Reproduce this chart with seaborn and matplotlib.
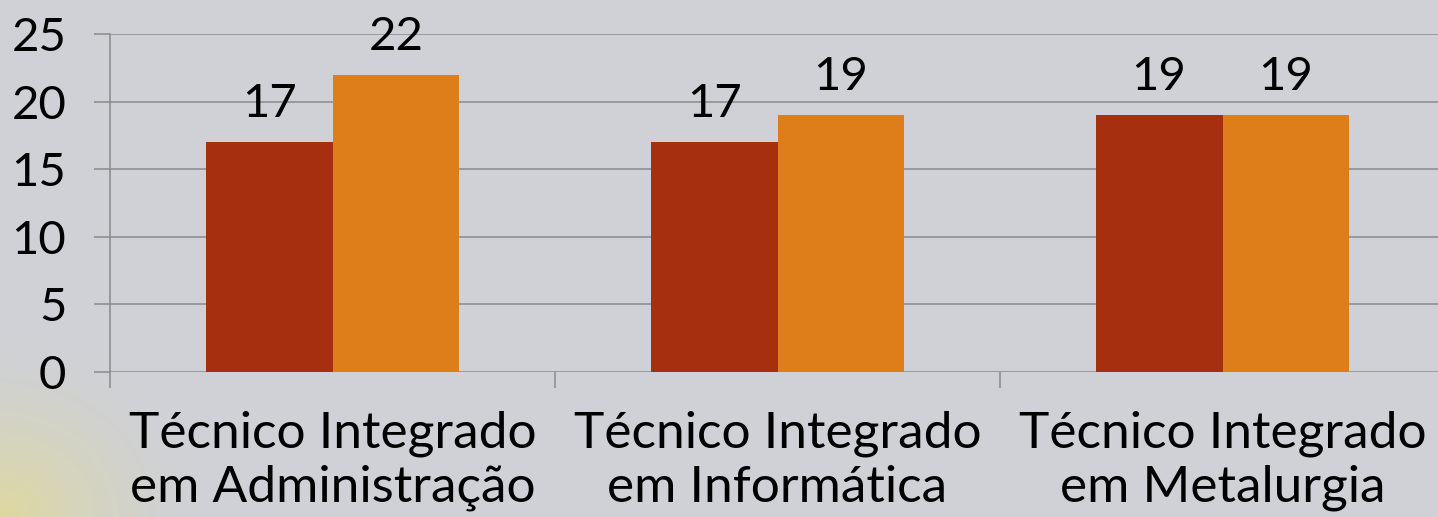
import numpy as np
import pandas as pd
import matplotlib
matplotlib.use('Agg')
import matplotlib.pyplot as plt
import seaborn as sns

categories = ['Técnico Integrado\nem Administração',
              'Técnico Integrado\nem Informática',
              'Técnico Integrado\nem Metalurgia']
series_names = ['Série 1', 'Série 2']
serie1 = [17, 17, 19]
serie2 = [22, 19, 19]
yticks = [0, 5, 10, 15, 20, 25]

bg = '#cfd1d6'
colors = ['#a52f0f', '#de7e1a']
grid_col = '#8a8a8a'

df = pd.DataFrame({
    'categoria': categories * 2,
    'serie': [series_names[0]] * 3 + [series_names[1]] * 3,
    'valor': serie1 + serie2,
})

sns.set_style('white')
plt.rcParams['font.family'] = ['Lato', 'DejaVu Sans']

fig = plt.figure(figsize=(14.38, 5.17), dpi=100)
fig.patch.set_facecolor(bg)

# soft yellow glow in the lower left corner of the slide background
bgax = fig.add_axes([0, 0, 1, 1], zorder=-10)
yy, xx = np.mgrid[0:517, 0:1438]
d = np.sqrt((xx / 200.0) ** 2 + ((517 - yy) / 180.0) ** 2)
glow = np.clip(1 - d, 0, 1) ** 1.5
base = np.array(matplotlib.colors.to_rgb(bg))
yel = np.array([0.87, 0.85, 0.62])
img = base[None, None, :] * (1 - glow[..., None]) + yel[None, None, :] * glow[..., None]
bgax.imshow(img, aspect='auto', extent=[0, 1, 0, 1])
bgax.axis('off')

ax = fig.add_axes([110 / 1438, 1 - 372 / 517, 1335 / 1438, (372 - 34) / 517])
ax.set_facecolor('none')

sns.barplot(data=df, x='categoria', y='valor', hue='serie', palette=colors,
            width=0.57, gap=0, saturation=1, legend=False, linewidth=0,
            edgecolor='none', ax=ax)

for cont in ax.containers:
    ax.bar_label(cont, labels=[f'{v:.0f}' for v in cont.datavalues],
                 padding=12, fontsize=34, color='black')

ax.set_ylim(0, 25)
ax.set_xlim(-0.5, 2.5)
ax.set_yticks(yticks)
ax.set_yticklabels([str(t) for t in yticks], fontsize=34)
ax.set_axisbelow(True)
ax.yaxis.grid(True, color=grid_col, linewidth=1.1)
ax.tick_params(axis='y', left=True, length=11.5, width=1.1, color=grid_col,
               pad=20, labelcolor='black')
ax.tick_params(axis='x', bottom=True, length=0, pad=28, labelsize=37,
               labelcolor='black')
ax.set_xlabel('')
ax.set_ylabel('')

# category separators below the axis
ax.set_xticks([-0.5, 0.5, 1.5], minor=True)
ax.tick_params(axis='x', which='minor', bottom=True, length=11.5, width=1.1,
               color=grid_col)

for s in ['top', 'right', 'bottom']:
    ax.spines[s].set_visible(False)
ax.spines['left'].set_color(grid_col)
ax.spines['left'].set_linewidth(1.1)

for lbl in ax.get_xticklabels():
    lbl.set_linespacing(1.2)

fig.savefig('out.png', dpi=100, facecolor=bg)
